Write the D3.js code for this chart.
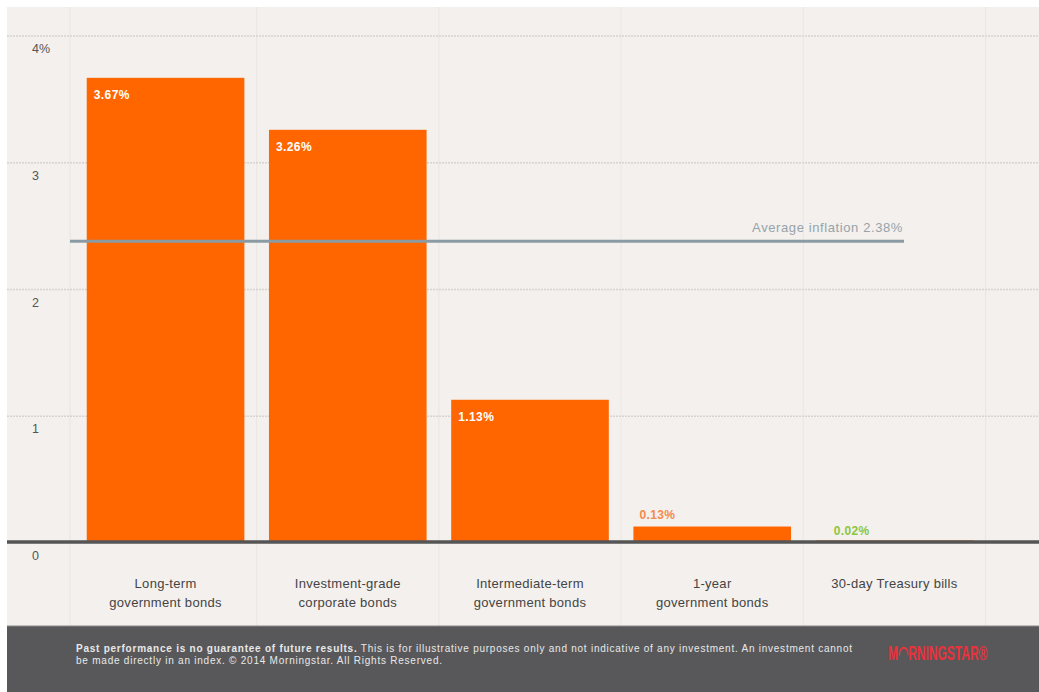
<!DOCTYPE html>
<html>
<head>
<meta charset="utf-8">
<script src="https://cdnjs.cloudflare.com/ajax/libs/d3/7.8.5/d3.min.js"></script>
<style>
  body { margin: 0; background: #fff; }
  text { font-family: "Liberation Sans", Arial, sans-serif; }
</style>
</head>
<body>
<svg id="chart" width="1039" height="692"></svg>
<script>
// data
const categories = [
  ["Long-term", "government  bonds"],
  ["Investment-grade", "corporate  bonds"],
  ["Intermediate-term", "government  bonds"],
  ["1-year", "government  bonds"],
  ["30-day Treasury  bills"]
];
const returns = [3.67, 3.26, 1.13, 0.13, 0.02];
const valueLabels = ["3.67%", "3.26%", "1.13%", "0.13%", "0.02%"];
const yTicks = [0, 1, 2, 3, 4];
const yTickLabels = ["0", "1", "2", "3", "4%"];
const inflation = 2.38;
const inflationLabel = "Average inflation 2.38%";

var svg = d3.select("#chart");
const width = +svg.attr("width");
const height = +svg.attr("height");

const bgLeft = 7, bgTop = 7;
const footerTop = 626;

// background panel
svg.append("rect")
    .attr("x", bgLeft).attr("y", bgTop)
    .attr("width", width - bgLeft).attr("height", height - bgTop)
    .attr("fill", "#f3f0ed");

var x = d3.scaleBand()
    .domain(d3.range(returns.length))
    .range([74, 986])
    .paddingInner(0.135)
    .paddingOuter(0.07);

var y = d3.scaleLinear()
    .domain([0, 4])
    .range([543, 36]);

// faint column separators
var step = x.step();
var seps = [70].concat(d3.range(returns.length).map(i => x(i) + x.bandwidth() + (step - x.bandwidth()) / 2));
svg.append("g").selectAll("line")
    .data(seps)
    .enter().append("line")
    .attr("x1", d => d).attr("x2", d => d)
    .attr("y1", bgTop).attr("y2", footerTop)
    .attr("stroke", "#eae6e2")
    .attr("stroke-width", 1);

// gridlines
svg.append("g").selectAll("line")
    .data(yTicks.filter(d => d > 0))
    .enter().append("line")
    .attr("x1", bgLeft).attr("x2", width)
    .attr("y1", d => y(d)).attr("y2", d => y(d))
    .attr("stroke", "#d6d3d0")
    .attr("stroke-width", 1.5)
    .attr("stroke-dasharray", "2,1");

// y tick labels (sit just under each gridline)
svg.append("g").selectAll("text")
    .data(yTicks)
    .enter().append("text")
    .attr("x", 32)
    .attr("y", d => y(d) + 17)
    .attr("font-size", 12.5)
    .attr("fill", "#555")
    .text((d, i) => yTickLabels[i]);

// bars
svg.append("g").selectAll("rect")
    .data(returns)
    .enter().append("rect")
    .attr("x", (d, i) => x(i))
    .attr("y", d => y(d))
    .attr("width", x.bandwidth())
    .attr("height", d => y(0) - y(d))
    .attr("fill", "#ff6600");

// value labels: inside for tall bars, above for short ones
svg.append("g").selectAll("text")
    .data(returns)
    .enter().append("text")
    .attr("x", (d, i) => x(i) + (d > 0.5 ? 7 : (i === 4 ? 18 : 6)))
    .attr("y", (d, i) => d > 0.5 ? y(d) + 21 : (i === 4 ? y(0) - 8 : y(d) - 8))
    .attr("font-size", 12)
    .attr("font-weight", "bold")
    .attr("letter-spacing", 0.4)
    .attr("fill", (d, i) => d > 0.5 ? "#fff" : (i === 4 ? "#8cc63f" : "#f58a4b"))
    .text((d, i) => valueLabels[i]);

// zero axis line
svg.append("line")
    .attr("x1", bgLeft).attr("x2", width)
    .attr("y1", y(0) - 1).attr("y2", y(0) - 1)
    .attr("stroke", "#555")
    .attr("stroke-width", 3.5);

// average inflation line
svg.append("line")
    .attr("x1", 70).attr("x2", 904)
    .attr("y1", y(inflation)).attr("y2", y(inflation))
    .attr("stroke", "#8b9ba4")
    .attr("stroke-width", 3);

svg.append("text")
    .attr("x", 903)
    .attr("y", y(inflation) - 9)
    .attr("text-anchor", "end")
    .attr("font-size", 13)
    .attr("letter-spacing", 0.6)
    .attr("fill", "#97a3ab")
    .text(inflationLabel);

// category labels
var catG = svg.append("g").selectAll("text")
    .data(categories)
    .enter().append("text")
    .attr("x", (d, i) => x(i) + x.bandwidth() / 2)
    .attr("y", 588)
    .attr("text-anchor", "middle")
    .attr("font-size", 13)
    .attr("letter-spacing", 0.3)
    .attr("fill", "#444");
catG.selectAll("tspan")
    .data(d => d)
    .enter().append("tspan")
    .attr("x", function () { return d3.select(this.parentNode).attr("x"); })
    .attr("dy", (d, i) => i === 0 ? 0 : 19)
    .text(d => d);

// footer
svg.append("rect")
    .attr("x", bgLeft).attr("y", footerTop)
    .attr("width", width - bgLeft).attr("height", height - footerTop)
    .attr("fill", "#58585a");
svg.append("line")
    .attr("x1", bgLeft).attr("x2", width)
    .attr("y1", footerTop).attr("y2", footerTop)
    .attr("stroke", "#8a8a8a").attr("stroke-width", 1);

var foot = svg.append("text")
    .attr("x", 76).attr("y", 652)
    .attr("font-size", 10)
    .attr("textLength", 776)
    .attr("lengthAdjust", "spacing")
    .attr("fill", "#e8e8e8");
foot.append("tspan").attr("font-weight", "bold").text("Past performance is no guarantee of future results.");
foot.append("tspan").text(" This is for illustrative purposes only and not indicative of any investment. An investment cannot");
svg.append("text")
    .attr("x", 76).attr("y", 664)
    .attr("font-size", 10)
    .attr("textLength", 366)
    .attr("lengthAdjust", "spacing")
    .attr("fill", "#e8e8e8")
    .text("be made directly in an index. \u00A9 2014 Morningstar. All Rights Reserved.");

// logo, drawn as condensed text
svg.append("g")
    .attr("transform", "translate(888,660) scale(0.6,1)")
    .append("text")
    .attr("x", 0).attr("y", 0)
    .attr("font-size", 20)
    .attr("font-weight", "bold")
    .attr("fill", "#e8323c")
    .text("M\u25E0RNINGSTAR\u00AE");
</script>
</body>
</html>
